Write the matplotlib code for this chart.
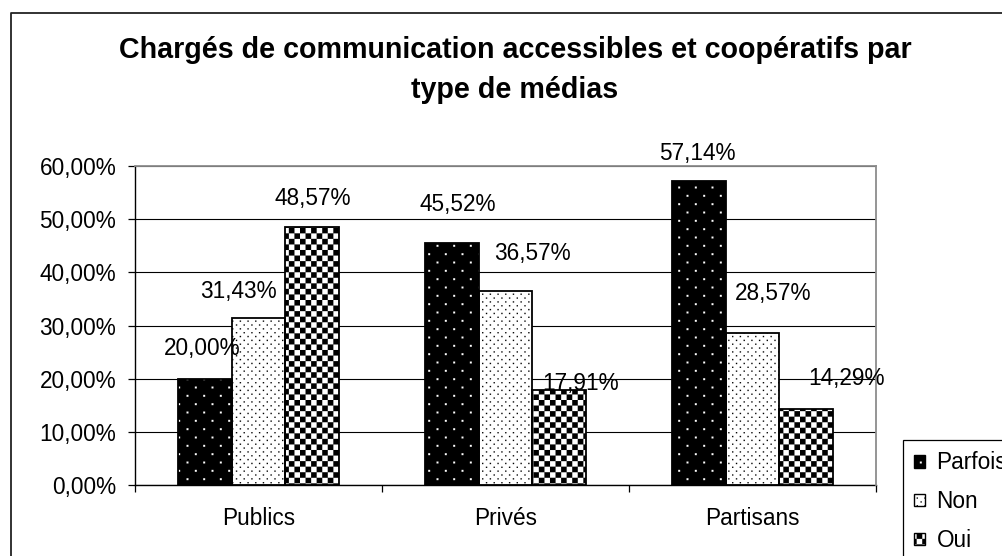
import numpy as np
import matplotlib
matplotlib.use("Agg")
import matplotlib.pyplot as plt
import matplotlib.hatch as mhatch
from matplotlib.path import Path
from matplotlib.patches import Patch
from matplotlib.lines import Line2D
from matplotlib.ticker import FuncFormatter, FixedLocator

# ---------------- data ----------------
categories = ["Publics", "Privés", "Partisans"]
series_names = ["Parfois", "Non", "Oui"]
parfois = [20.00, 45.52, 57.14]
non = [31.43, 36.57, 28.57]
oui = [48.57, 17.91, 14.29]
yticks = [0, 10, 20, 30, 40, 50, 60]
title = "Chargés de communication accessibles et coopératifs par\ntype de médias"

# ---------------- custom hatch patterns ----------------
class _Lattice(mhatch.HatchPatternBase):
    char = "o"
    rows = 12
    cols = 6
    half = 0.009

    def __init__(self, hatch, density):
        self.n = self.rows * self.cols if hatch.count(self.char) else 0
        self.num_vertices = self.n * 5

    def set_vertices_and_codes(self, vertices, codes):
        k = 0
        s = self.half
        for r in range(self.rows):
            y = (r + 0.5) / self.rows
            shift = 0.5 / self.cols if r % 2 else 0.0
            for c in range(self.cols):
                x = (c + 0.25) / self.cols + shift
                sq = np.array([[x - s, y - s], [x + s, y - s], [x + s, y + s],
                               [x - s, y + s], [x - s, y - s]])
                vertices[k:k + 5] = sq
                codes[k:k + 5] = [Path.MOVETO, Path.LINETO, Path.LINETO,
                                  Path.LINETO, Path.CLOSEPOLY]
                k += 5


class _SparseDots(_Lattice):
    char = "o"
    rows = 12
    cols = 6
    half = 0.0095


class _DenseDots(_Lattice):
    char = "."
    rows = 26
    cols = 13
    half = 0.0065


class _Checker(mhatch.HatchPatternBase):
    cells = 18

    def __init__(self, hatch, density):
        n = self.cells
        self.n = (n * n // 2) if hatch.count("*") else 0
        self.num_vertices = self.n * 5

    def set_vertices_and_codes(self, vertices, codes):
        n = self.cells
        d = 1.0 / n
        k = 0
        for i in range(n):
            for j in range(n):
                if (i + j) % 2 == 0:
                    x0, y0 = i * d, j * d
                    sq = np.array([[x0, y0], [x0 + d, y0], [x0 + d, y0 + d],
                                   [x0, y0 + d], [x0, y0]])
                    vertices[k:k + 5] = sq
                    codes[k:k + 5] = [Path.MOVETO, Path.LINETO, Path.LINETO,
                                      Path.LINETO, Path.CLOSEPOLY]
                    k += 5


mhatch._hatch_types = [mhatch.HorizontalHatch, mhatch.VerticalHatch,
                       mhatch.NorthEastHatch, mhatch.SouthEastHatch,
                       _SparseDots, _DenseDots, _Checker]

plt.rcParams["font.family"] = ["Liberation Sans", "DejaVu Sans"]
plt.rcParams["hatch.linewidth"] = 0.05

# ---------------- styles ----------------
faces = ["black", "white", "white"]
hatch_colors = ["white", "black", "black"]
hatches = ["o", ".", "*"]
label_offsets = [  # (dx, dy) in pixels for each series, per category
    [(-2, 30), (6, 38), (-1, 28)],
    [(-20, 26), (27, 37), (21, 40)],
    [(0, 28), (21, 6), (40, 31)],
]
FS = 16.3

W, H = 1003, 556
fig = plt.figure(figsize=(W / 100, H / 100), dpi=100)
ax = fig.add_axes([135 / W, (H - 485) / H, (876 - 135) / W, (485 - 166) / H])

x = np.arange(len(categories))
width = 0.2186
all_series = [parfois, non, oui]
for i, vals in enumerate(all_series):
    pos = x + (i - 1) * width
    ax.bar(pos, vals, width, color=faces[i], edgecolor=hatch_colors[i],
           linewidth=0, hatch=hatches[i], zorder=2)
    ax.bar(pos, vals, width, fill=False, edgecolor="black", linewidth=1.3,
           zorder=3)
    for j, v in enumerate(vals):
        dx, dy = label_offsets[i][j]
        ax.annotate(f"{v:.2f}%".replace(".", ","), xy=(pos[j], v),
                    xytext=(dx, dy), textcoords="offset pixels",
                    ha="center", va="center", fontsize=FS, zorder=5)

ax.set_xlim(-0.5, len(categories) - 0.5)
ax.set_ylim(0, 60)
ax.set_yticks(yticks)
ax.yaxis.set_major_formatter(FuncFormatter(lambda v, p: f"{v:.2f}%".replace(".", ",")))
ax.tick_params(axis="y", direction="out", length=5, width=0.9, pad=8.5,
               labelsize=FS, color="black")
ax.set_xticks(x)
ax.set_xticklabels(categories)
ax.tick_params(axis="x", which="major", length=0, pad=15.5, labelsize=FS)
ax.xaxis.set_minor_locator(FixedLocator(np.arange(-0.5, len(categories), 1.0)))
ax.tick_params(axis="x", which="minor", direction="out", length=5, width=0.9)

ax.yaxis.grid(True, color="black", linewidth=0.8)
ax.set_axisbelow(True)
for side in ["left", "bottom"]:
    ax.spines[side].set_color("black")
    ax.spines[side].set_linewidth(1.0)
for side in ["top", "right"]:
    ax.spines[side].set_color("#8c8c8c")
    ax.spines[side].set_linewidth(1.3)
    ax.spines[side].set_zorder(4)

fig.text(515 / W, 1 - 70 / H, title, ha="center", va="center",
         fontsize=20.6, fontweight="bold", linespacing=1.55)

# outer frame (clipped at right and bottom)
fig.add_artist(Line2D([11 / W, 11 / W, 1.0], [0.0, 1 - 13 / H, 1 - 13 / H],
                      transform=fig.transFigure, color="#222222", linewidth=1.3))

handles = [(Patch(facecolor=faces[i], edgecolor=hatch_colors[i], linewidth=0,
                  hatch=hatches[i]),
            Patch(fill=False, edgecolor="black", linewidth=1.0))
           for i in range(3)]
leg = fig.legend(handles, series_names, loc="upper left",
                 bbox_to_anchor=(903 / W, 1 - 440 / H),
                 bbox_transform=fig.transFigure, fontsize=FS,
                 frameon=True, fancybox=False, shadow=False, framealpha=1,
                 edgecolor="black", borderaxespad=0, borderpad=0.5,
                 labelspacing=0.7, handlelength=0.48, handleheight=0.48,
                 handletextpad=0.5)
leg.get_frame().set_linewidth(0.9)

fig.savefig("out.png", dpi=100)
